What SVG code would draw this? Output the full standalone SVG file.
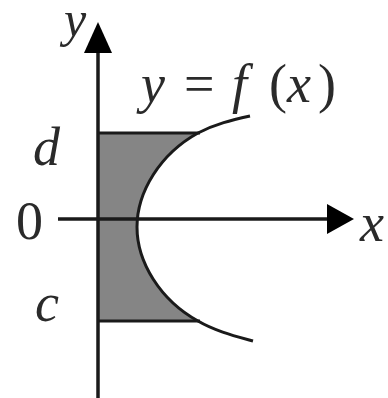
<svg xmlns="http://www.w3.org/2000/svg" width="388" height="398" viewBox="0 0 388 398">
<style>
.ax{stroke:#1a1a1a;stroke-width:3.5;fill:none}
.head{fill:#000}
.edge{stroke:#1a1a1a;stroke-width:3;fill:none}
.it{font-family:"Liberation Serif","Times New Roman",serif;font-style:italic;font-size:54px;fill:#2a2a2a}
.up{font-family:"Liberation Serif","Times New Roman",serif;font-size:54px;fill:#2a2a2a}
</style>
<rect width="388" height="398" fill="#fff"/>
<g id="region">
<path d="M98 133 L198 133 C160 154 137 192 137 227 C137 262 160 300 198 321 L98 321 Z" fill="#858585"/>
<line class="edge" x1="98" y1="133" x2="200" y2="133"/>
<line class="edge" x1="98" y1="321" x2="200" y2="321"/>
</g>
<g id="connectors">
<line id="y-axis" class="ax" x1="98" y1="398" x2="98" y2="48"/>
<polygon class="head" points="98,22 84,53 112,53"/>
<line id="x-axis" class="ax" x1="58" y1="219" x2="330" y2="219"/>
<polygon class="head" points="354,219 327,204 327,234"/>
</g>
<g id="curve">
<path class="edge" d="M250 116 C232 120 215 124 198 133 C160 154 137 192 137 227 C137 262 160 300 198 321 C215 331 235 336 253 341"/>
</g>
<g id="labels">
<text class="it" x="64" y="36" style="font-size:50px">y</text>
<text class="it" x="360" y="241">x</text>
<text class="it" x="33" y="165">d</text>
<text class="up" x="16" y="239">0</text>
<text class="it" x="35" y="321">c</text>
<g id="func-label">
<text class="it" x="141" y="102">y</text>
<text class="up" x="184" y="102">=</text>
<text class="it" x="232" y="102">f</text>
<text class="up" x="269" y="102">(</text>
<text class="it" x="287" y="102">x</text>
<text class="up" x="318" y="102">)</text>
</g>
</g>
</svg>
